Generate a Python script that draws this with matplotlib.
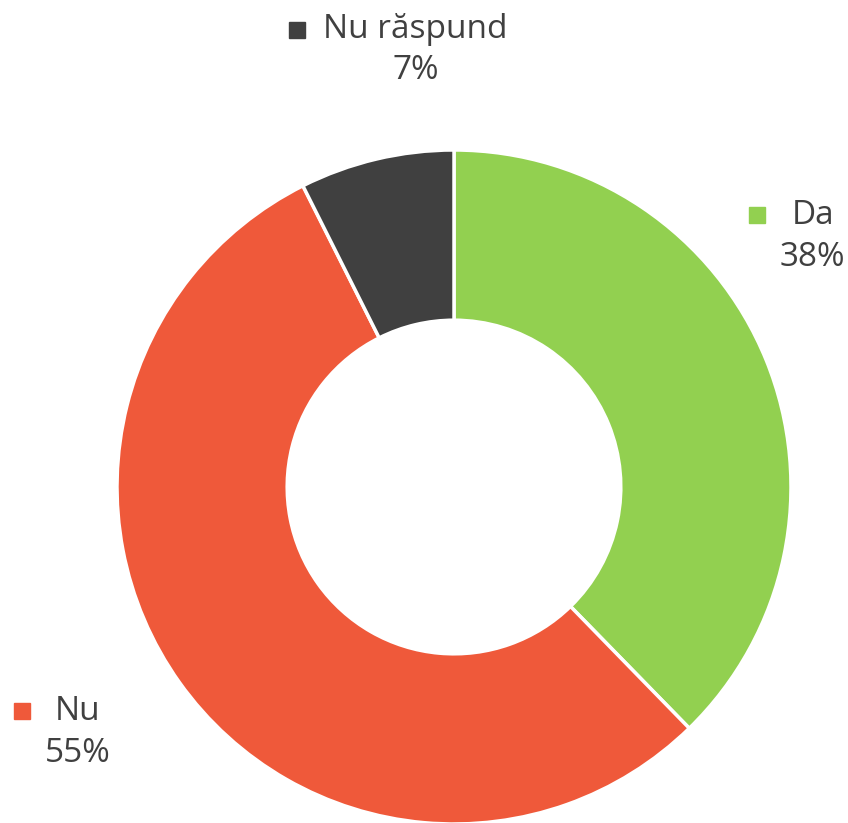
import numpy as np
import matplotlib.pyplot as plt

categorii = ['Da', 'Nu', 'Nu răspund']
valori = [37.7, 54.9, 7.4]
culori = ['#92D050', '#EF593A', '#404040']

W, H = 848, 823
cx, cy, R = 454, 487, 337

fig = plt.figure(figsize=(W / 100, H / 100), dpi=100, facecolor='white')
ax = fig.add_axes([0, 0, 1, 1])

ax.pie(valori, colors=culori, startangle=90, counterclock=False, radius=1,
       wedgeprops=dict(width=0.505, edgecolor='white', linewidth=2.5))

# limitele dupa pie, ca sa corespunda pixelilor
ax.set_aspect('auto')
ax.set_xlim(-cx / R, (W - cx) / R)
ax.set_ylim(-(H - cy) / R, cy / R)
ax.axis('off')


def px(x, y):
    return (x - cx) / R, (cy - y) / R


# pozitii etichete (pixeli): marcaj, nume, procent
pozitii = {
    'Da': ((757, 215), (813, 216), (812, 258)),
    'Nu': ((22, 711), (78, 712), (78, 754)),
    'Nu răspund': ((297, 30), (415, 30), (416, 71)),
}

txt = dict(fontsize=24, color='#404040', family=['Open Sans', 'DejaVu Sans'],
           ha='center', va='center')
for cat, val, col in zip(categorii, valori, culori):
    m, n, p = pozitii[cat]
    ax.plot(*px(*m), marker='s', markersize=11, color=col, linestyle='none')
    ax.text(*px(*n), cat, **txt)
    ax.text(*px(*p), f'{round(val):d}%', **txt)

fig.savefig('out.png', dpi=100, facecolor='white')
